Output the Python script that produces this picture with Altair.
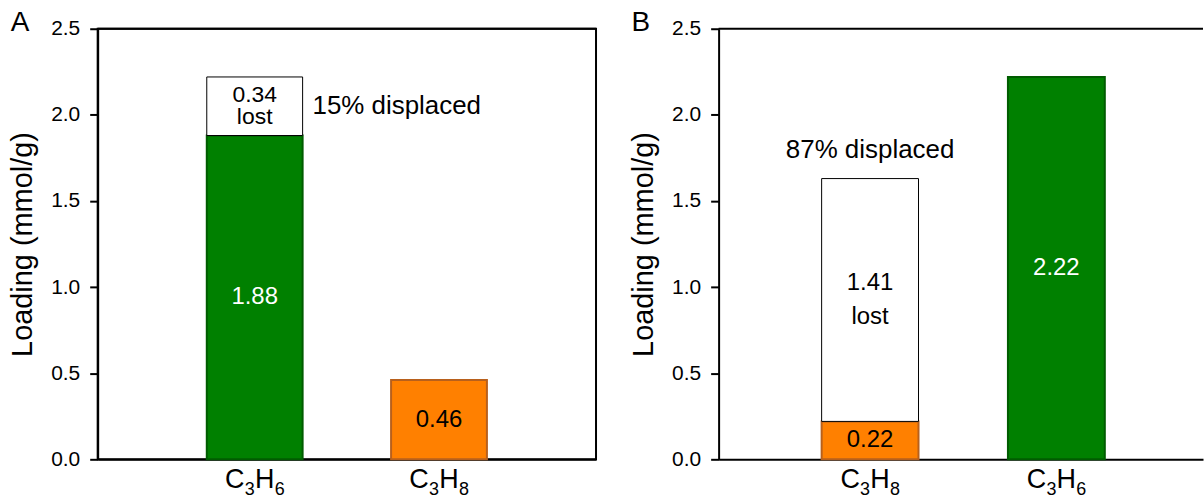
import altair as alt
import pandas as pd

# Panel A: C3H6 pre-loaded, then exposed to C3H8
panel_a_gases = ["C₃H₆", "C₃H₈"]
panel_a_retained = [1.88, 0.46]
panel_a_lost = [0.34, 0.0]

# Panel B: C3H8 pre-loaded, then exposed to C3H6
panel_b_gases = ["C₃H₈", "C₃H₆"]
panel_b_retained = [0.22, 2.22]
panel_b_lost = [1.41, 0.0]

gas_fill = {"C₃H₆": "#008000", "C₃H₈": "#FF8000"}
gas_edge = {"C₃H₆": "#005C00", "C₃H₈": "#B8601C"}
gas_text = {"C₃H₆": "white", "C₃H₈": "black"}

FONT = "Liberation Sans"
HEIGHT = 432
SUB_DIGITS = str.maketrans("₀₁₂₃₄₅₆₇₈₉", "0123456789")


def segments(gases, retained, lost):
    rows = []
    for g, r, l in zip(gases, retained, lost):
        rows.append(dict(gas=g, y0=0.0, y1=r, fill=gas_fill[g], edge=gas_edge[g], sw=2.0))
        if l > 0:
            rows.append(dict(gas=g, y0=r, y1=r + l, fill="white", edge="black", sw=1.0))
    return pd.DataFrame(rows)


def value_labels(gases, retained):
    return pd.DataFrame(
        [dict(gas=g, mid=r / 2, text=f"{r:.2f}", color=gas_text[g]) for g, r in zip(gases, retained)]
    )


def lost_labels(gases, retained, lost):
    rows = []
    for g, r, l in zip(gases, retained, lost):
        if l > 0:
            rows.append(dict(gas=g, mid=r + l / 2, top=r + l,
                             text=f"{l:.2f}\nlost",
                             pct=f"{round(100 * l / (r + l))}% displaced"))
    return pd.DataFrame(rows)


def formula_parts(gases):
    # split "C₃H₆" into element symbols and their subscript counts
    rows = []
    for g in gases:
        plain = g.translate(SUB_DIGITS)
        rows.append(dict(gas=g, e1=plain[0], n1=plain[1], e2=plain[2], n2=plain[3]))
    return pd.DataFrame(rows)


def panel(gases, retained, lost, letter, width, lost_size, lost_line_height, pct_mode, outer, align):
    x = alt.X(
        "gas:N",
        sort=gases,
        title=None,
        scale=alt.Scale(paddingInner=0.48, paddingOuter=outer, align=align),
        axis=alt.Axis(labels=False, ticks=False, domainColor="black", domainWidth=2),
    )
    y = alt.Y(
        "y0:Q",
        title="Loading (mmol/g)",
        scale=alt.Scale(domain=[0, 2.5], nice=False),
        axis=alt.Axis(values=[0, 0.5, 1.0, 1.5, 2.0, 2.5], format=".1f", grid=False,
                      tickSize=8, tickWidth=2, tickColor="black", labelPadding=10,
                      labelFontSize=21, labelColor="black", domainColor="black",
                      domainWidth=2, titleFontSize=29, titleFontWeight="normal",
                      titleColor="black", titlePadding=13),
    )
    xs = alt.X("gas:N", sort=gases)

    bars = alt.Chart(segments(gases, retained, lost)).mark_bar().encode(
        x=x,
        y=y,
        y2="y1:Q",
        fill=alt.Fill("fill:N", scale=None),
        stroke=alt.Stroke("edge:N", scale=None),
        strokeWidth=alt.StrokeWidth("sw:Q", scale=None),
    )

    vals = alt.Chart(value_labels(gases, retained)).mark_text(
        fontSize=24, baseline="middle", align="center"
    ).encode(
        x=xs,
        y=alt.Y("mid:Q"),
        text="text:N",
        color=alt.Color("color:N", scale=None),
    )

    ldf = lost_labels(gases, retained, lost)
    lost_txt = alt.Chart(ldf).mark_text(
        fontSize=lost_size, baseline="middle", align="center", lineBreak="\n",
        lineHeight=lost_line_height, dy=-lost_line_height / 2, color="black"
    ).encode(x=xs, y=alt.Y("mid:Q"), text="text:N")

    if pct_mode == "side":
        pct = alt.Chart(ldf).mark_text(
            fontSize=26, baseline="middle", align="left", dx=58, color="black"
        ).encode(x=xs, y=alt.Y("mid:Q"), text="pct:N")
    else:
        pct = alt.Chart(ldf).mark_text(
            fontSize=26, baseline="middle", align="center", dy=-29, color="black"
        ).encode(x=xs, y=alt.Y("top:Q"), text="pct:N")

    # category labels written as chemical formulas with lowered subscripts
    fdf = formula_parts(gases)
    base = alt.Chart(fdf)
    main_y = alt.value(HEIGHT + 29)
    sub_y = alt.value(HEIGHT + 36)
    f_e1 = base.mark_text(fontSize=27, align="center", baseline="alphabetic", dx=-20, color="black").encode(
        x=xs, y=main_y, text="e1:N")
    f_n1 = base.mark_text(fontSize=18, align="center", baseline="alphabetic", dx=-5, color="black").encode(
        x=xs, y=sub_y, text="n1:N")
    f_e2 = base.mark_text(fontSize=27, align="center", baseline="alphabetic", dx=10, color="black").encode(
        x=xs, y=main_y, text="e2:N")
    f_n2 = base.mark_text(fontSize=18, align="center", baseline="alphabetic", dx=25, color="black").encode(
        x=xs, y=sub_y, text="n2:N")

    tag = alt.Chart(pd.DataFrame({"t": [letter]})).mark_text(
        fontSize=28, baseline="middle", align="center", color="black"
    ).encode(x=alt.value(-78), y=alt.value(-6), text="t:N")

    top = alt.Chart(pd.DataFrame({"v": [2.5]})).mark_rule(
        color="black", strokeWidth=2
    ).encode(y=alt.Y("v:Q"))

    layers = [bars, vals, lost_txt, pct, f_e1, f_n1, f_e2, f_n2, tag, top]
    return alt.layer(*layers).properties(width=width, height=HEIGHT)


chart_a = panel(panel_a_gases, panel_a_retained, panel_a_lost, "A", 500, 23, 22, "side", 0.592, 0.5)
chart_a = chart_a.properties(view=alt.ViewBackground(stroke="black", strokeWidth=2))
chart_b = panel(panel_b_gases, panel_b_retained, panel_b_lost, "B", 486, 24, 35, "above", 0.54, 0.512)

chart = (
    alt.hconcat(chart_a, chart_b, spacing=31)
    .properties(padding={"left": 7, "top": 7, "right": 0, "bottom": 0}, background="white")
    .configure(font=FONT)
    .configure_view(stroke=None)
)

chart.save("out.html", embed_options={"renderer": "svg", "actions": False})
